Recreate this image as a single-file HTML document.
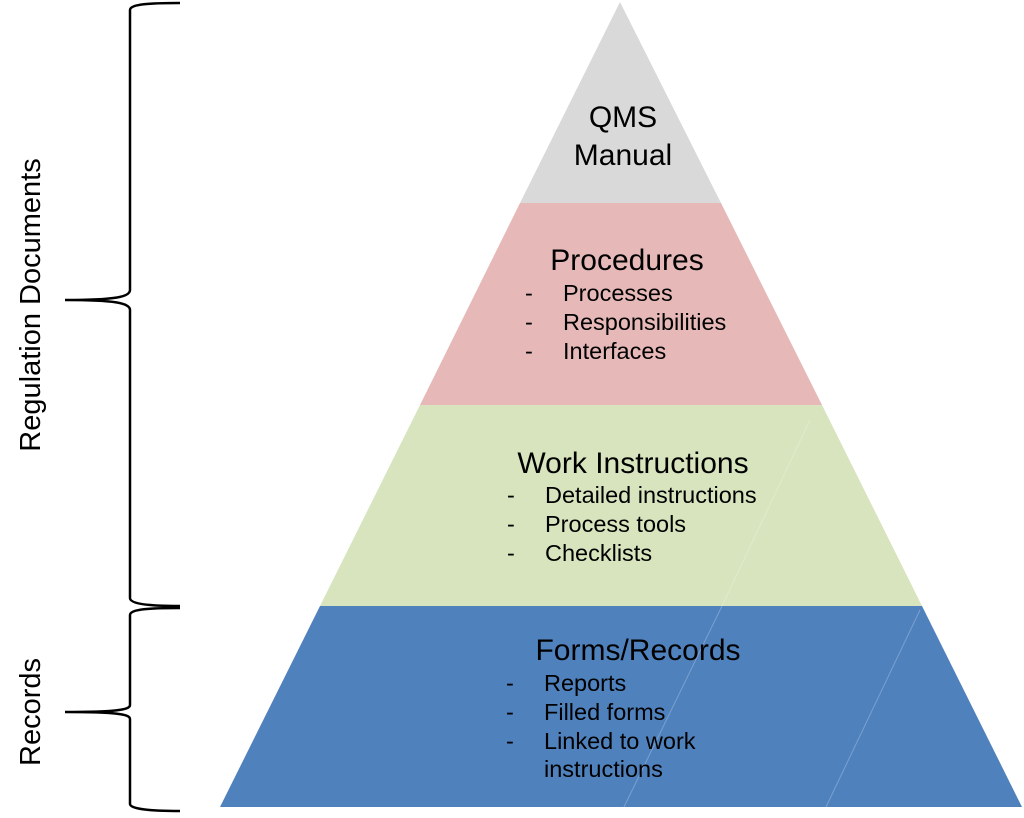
<!DOCTYPE html>
<html><head><meta charset="utf-8"><style>
html,body{margin:0;padding:0;background:#fff;}
svg{display:block;}
text{font-family:"Liberation Sans",sans-serif;fill:#000;}
.h{font-size:30px;}
.i{font-size:23.5px;}
</style></head><body>
<svg width="1024" height="818" viewBox="0 0 1024 818" xmlns="http://www.w3.org/2000/svg">
<polygon points="620,2 721,203 520,203" fill="#d9d9d9"/>
<polygon points="520,203 721,203 822,405 420,405" fill="#e6b9b8"/>
<polygon points="420,405 822,405 922,606 320,606" fill="#d7e4bd"/>
<polygon points="320,606 922,606 1022,807 220,807" fill="#4f81bd"/>
<g stroke="#ffffff" stroke-opacity="0.25" stroke-width="1">
<line x1="810" y1="420" x2="722" y2="606"/>
<line x1="722" y1="606" x2="624" y2="807"/>
<line x1="920" y1="610" x2="826" y2="807"/>
</g>
<g fill="none" stroke="#000" stroke-width="2.5">
<path d="M180,3 C150,3 130,4 130,10 L130,290 C130,297 115,300 65,300 C115,300 130,303 130,310 L130,598 C130,604 150,606 180,606"/>
<path d="M180,608 C150,608 130,609 130,615 L130,705 C130,710 115,712 65,712 C115,712 130,714 130,719 L130,804 C130,809 150,811 180,811"/>
</g>
<text x="40" y="305" transform="rotate(-90 40 305)" text-anchor="middle" style="font-size:29px">Regulation Documents</text>
<text x="40" y="712" transform="rotate(-90 40 712)" text-anchor="middle" style="font-size:29px">Records</text>
<text class="h" x="623" y="127" text-anchor="middle">QMS</text>
<text class="h" x="623" y="165" text-anchor="middle">Manual</text>
<text class="h" x="627" y="270" text-anchor="middle">Procedures</text>
<text class="i" x="525" y="301">-</text><text class="i" x="563" y="301">Processes</text>
<text class="i" x="525" y="330">-</text><text class="i" x="563" y="330">Responsibilities</text>
<text class="i" x="525" y="359">-</text><text class="i" x="563" y="359">Interfaces</text>
<text class="h" x="633" y="473" text-anchor="middle">Work Instructions</text>
<text class="i" x="507" y="503">-</text><text class="i" x="545" y="503">Detailed instructions</text>
<text class="i" x="507" y="532">-</text><text class="i" x="545" y="532">Process tools</text>
<text class="i" x="507" y="561">-</text><text class="i" x="545" y="561">Checklists</text>
<text class="h" x="638" y="660" text-anchor="middle">Forms/Records</text>
<text class="i" x="506" y="691">-</text><text class="i" x="544" y="691">Reports</text>
<text class="i" x="506" y="720">-</text><text class="i" x="544" y="720">Filled forms</text>
<text class="i" x="506" y="749">-</text><text class="i" x="544" y="749">Linked to work</text>
<text class="i" x="544" y="777">instructions</text>
</svg>
</body></html>
